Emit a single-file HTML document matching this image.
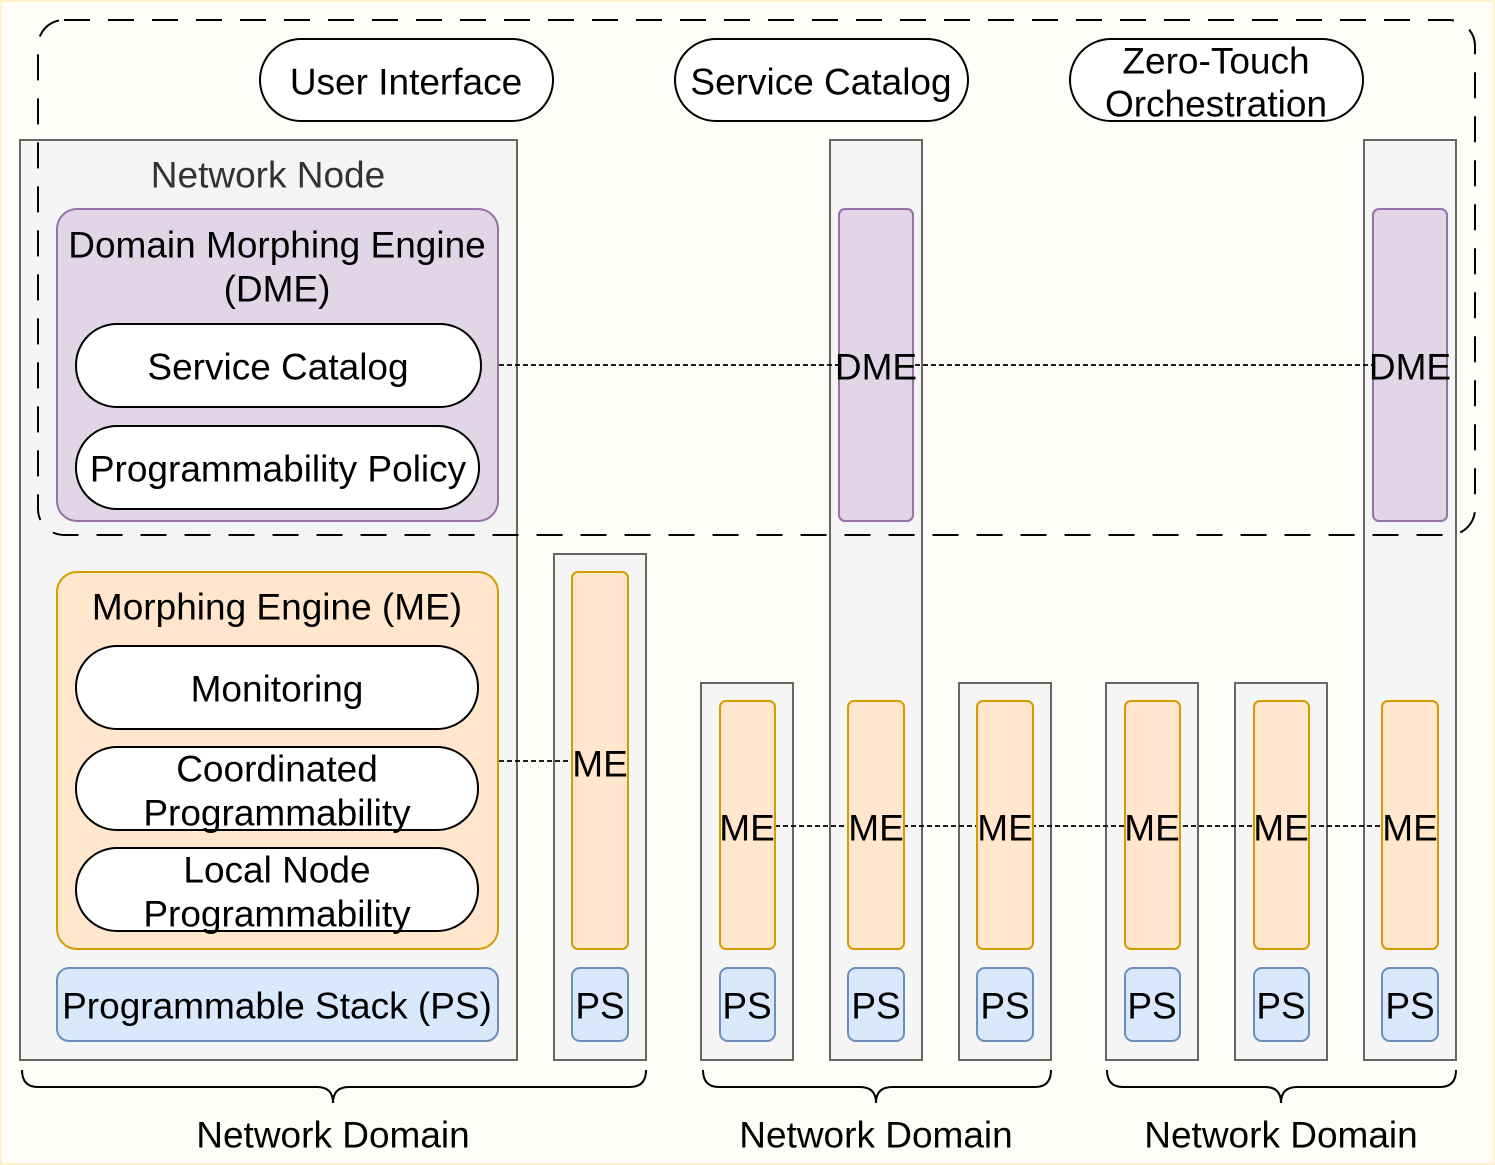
<!DOCTYPE html>
<html><head><meta charset="utf-8"><style>
html,body{margin:0;padding:0;background:#fffdf7}
svg{display:block}
text{font-family:"Liberation Sans",Arial,sans-serif;font-size:37px;fill:#000;text-anchor:middle;dominant-baseline:central}
</style></head><body>
<svg width="1495" height="1165" viewBox="0 0 1495 1165" xmlns="http://www.w3.org/2000/svg">
<rect x="1" y="1" width="1493" height="1163" fill="#fffdf7" stroke="#fff2cc" stroke-width="2"/>
<rect x="20" y="140" width="497" height="920" fill="#f5f5f5" stroke="#666" stroke-width="2"/>
<text x="268" y="175" style="fill:#333">Network Node</text>
<rect x="57" y="209" width="441" height="312" rx="20" fill="#e1d5e7" stroke="#9673a6" stroke-width="2"/>
<text x="277" y="245">Domain Morphing Engine</text>
<text x="277" y="289">(DME)</text>
<rect x="76" y="324" width="405" height="83" rx="41" fill="#fff" stroke="#000" stroke-width="2"/>
<text x="278" y="367">Service Catalog</text>
<rect x="76" y="426" width="403" height="83" rx="41" fill="#fff" stroke="#000" stroke-width="2"/>
<text x="278" y="469">Programmability Policy</text>
<rect x="57" y="572" width="441" height="377" rx="20" fill="#ffe6cc" stroke="#d79b00" stroke-width="2"/>
<text x="277" y="607">Morphing Engine (ME)</text>
<rect x="76" y="646" width="402" height="83" rx="41" fill="#fff" stroke="#000" stroke-width="2"/>
<text x="277" y="689">Monitoring</text>
<rect x="76" y="747" width="402" height="83" rx="41" fill="#fff" stroke="#000" stroke-width="2"/>
<text x="277" y="769">Coordinated</text>
<text x="277" y="813">Programmability</text>
<rect x="76" y="848" width="402" height="83" rx="41" fill="#fff" stroke="#000" stroke-width="2"/>
<text x="277" y="870">Local Node</text>
<text x="277" y="914">Programmability</text>
<rect x="57" y="968" width="441" height="73" rx="12" fill="#dae8fc" stroke="#6c8ebf" stroke-width="2"/>
<text x="277" y="1006">Programmable Stack (PS)</text>

<g stroke="#666" stroke-width="2" fill="#f5f5f5">
<rect x="554" y="554" width="92" height="506"/>
<rect x="701" y="683" width="92" height="377"/>
<rect x="830" y="140" width="92" height="920"/>
<rect x="959" y="683" width="92" height="377"/>
<rect x="1106" y="683" width="92" height="377"/>
<rect x="1235" y="683" width="92" height="377"/>
<rect x="1364" y="140" width="92" height="920"/>
</g>
<g stroke="#000" stroke-width="1.8" stroke-dasharray="5 3">
<line x1="499" y1="365" x2="1373" y2="365"/>
<line x1="499" y1="761" x2="572" y2="761"/>
<line x1="775" y1="826" x2="1382" y2="826"/>
</g>
<g fill="#e1d5e7" stroke="#9673a6" stroke-width="2">
<rect x="839" y="209" width="74" height="312" rx="6"/>
<rect x="1373" y="209" width="74" height="312" rx="6"/>
</g>
<g fill="#ffe6cc" stroke="#d79b00" stroke-width="2">
<rect x="572" y="572" width="56" height="377" rx="6"/>
<rect x="720" y="701" width="55" height="248" rx="6"/>
<rect x="848" y="701" width="56" height="248" rx="6"/>
<rect x="977" y="701" width="56" height="248" rx="6"/>
<rect x="1125" y="701" width="55" height="248" rx="6"/>
<rect x="1254" y="701" width="55" height="248" rx="6"/>
<rect x="1382" y="701" width="56" height="248" rx="6"/>
</g>
<g fill="#dae8fc" stroke="#6c8ebf" stroke-width="2">
<rect x="572" y="968" width="56" height="73" rx="8"/>
<rect x="720" y="968" width="55" height="73" rx="8"/>
<rect x="848" y="968" width="56" height="73" rx="8"/>
<rect x="977" y="968" width="56" height="73" rx="8"/>
<rect x="1125" y="968" width="55" height="73" rx="8"/>
<rect x="1254" y="968" width="55" height="73" rx="8"/>
<rect x="1382" y="968" width="56" height="73" rx="8"/>
</g>
<text x="876" y="367">DME</text>
<text x="1410" y="367">DME</text>
<text x="600" y="764">ME</text>
<text x="747" y="828">ME</text>
<text x="876" y="828">ME</text>
<text x="1005" y="828">ME</text>
<text x="1152" y="828">ME</text>
<text x="1281" y="828">ME</text>
<text x="1410" y="828">ME</text>
<g>
<text x="600" y="1006">PS</text><text x="747" y="1006">PS</text><text x="876" y="1006">PS</text><text x="1005" y="1006">PS</text><text x="1152" y="1006">PS</text><text x="1281" y="1006">PS</text><text x="1410" y="1006">PS</text>
</g>

<rect x="38" y="20" width="1437" height="515" rx="26" fill="none" stroke="#000" stroke-width="2" stroke-dasharray="26 18"/>

<g fill="#fff" stroke="#000" stroke-width="2">
<rect x="260" y="39" width="293" height="82" rx="41"/>
<rect x="675" y="39" width="293" height="82" rx="41"/>
<rect x="1070" y="39" width="293" height="82" rx="41"/>
</g>
<text x="406" y="82">User Interface</text>
<text x="821" y="82">Service Catalog</text>
<text x="1216" y="61">Zero-Touch</text>
<text x="1216" y="104">Orchestration</text>

<g fill="none" stroke="#000" stroke-width="2">
<path d="M22 1070 Q22 1087 38 1087 L317 1087 Q333 1087 333 1103 Q333 1087 349 1087 L630 1087 Q646 1087 646 1070"/>
<path d="M703 1070 Q703 1087 719 1087 L860 1087 Q876 1087 876 1103 Q876 1087 892 1087 L1035 1087 Q1051 1087 1051 1070"/>
<path d="M1107 1070 Q1107 1087 1123 1087 L1265 1087 Q1281 1087 1281 1103 Q1281 1087 1297 1087 L1440 1087 Q1456 1087 1456 1070"/>
</g>
<text x="333" y="1135">Network Domain</text>
<text x="876" y="1135">Network Domain</text>
<text x="1281" y="1135">Network Domain</text>
</svg>
</body></html>
